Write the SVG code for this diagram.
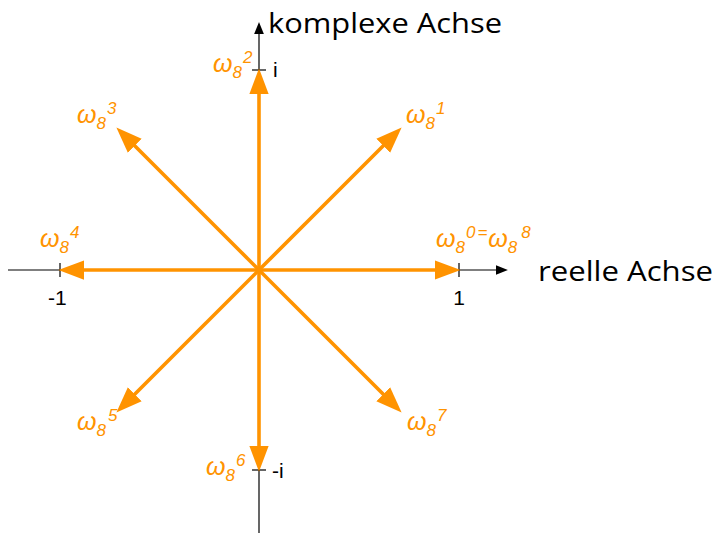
<svg xmlns="http://www.w3.org/2000/svg" width="717" height="534" viewBox="0 0 717 534">
  <style>
    .axis { stroke: #000; stroke-width: 1.2; fill: none; }
    .tick { stroke: #000; stroke-width: 1.2; }
    .vec { stroke: #ff9300; stroke-width: 3.6; fill: none; marker-end: url(#oh); }
    .w { font-family: "Liberation Sans", Arial, sans-serif; font-style: italic; font-size: 25px; fill: #ff9300; }
    .s { font-size: 17px; }
    .num { font-family: "Liberation Sans", Arial, sans-serif; font-size: 21px; fill: #000; }
    .hand { font-family: "Open Sans", "DejaVu Sans", sans-serif; font-size: 28px; fill: #000; }
  </style>
  <defs>
    <marker id="oh" markerUnits="userSpaceOnUse" markerWidth="26" markerHeight="20" viewBox="0 0 24 18" refX="4" refY="9" orient="auto">
      <path d="M0,0 L24,9 L0,18 z" fill="#ff9300"/>
    </marker>
    <marker id="bh" markerUnits="userSpaceOnUse" markerWidth="12" markerHeight="10" viewBox="0 0 11 9" refX="1" refY="4.5" orient="auto">
      <path d="M0,0 L11,4.5 L0,9 z" fill="#000"/>
    </marker>
  </defs>

  <g id="axes">
    <line class="axis" x1="8" y1="270" x2="497" y2="270" marker-end="url(#bh)"/>
    <line class="axis" x1="259" y1="533" x2="259" y2="33" marker-end="url(#bh)"/>
    <line class="tick" x1="60" y1="263" x2="60" y2="277"/>
    <line class="tick" x1="459" y1="263" x2="459" y2="277"/>
    <line class="tick" x1="252" y1="70" x2="266" y2="70"/>
    <line class="tick" x1="252" y1="470" x2="266" y2="470"/>
  </g>

  <g id="connectors">
    <line class="vec" x1="259" y1="270" x2="439" y2="270"/>
    <line class="vec" x1="259" y1="270" x2="386.3" y2="142.7"/>
    <line class="vec" x1="259" y1="270" x2="259" y2="90"/>
    <line class="vec" x1="259" y1="270" x2="131.7" y2="142.7"/>
    <line class="vec" x1="259" y1="270" x2="80" y2="270"/>
    <line class="vec" x1="259" y1="270" x2="131.7" y2="397.3"/>
    <line class="vec" x1="259" y1="270" x2="259" y2="450"/>
    <line class="vec" x1="259" y1="270" x2="386.3" y2="397.3"/>
  </g>

  <g id="axis-labels">
    <text class="hand" x="268" y="33" textLength="234" lengthAdjust="spacingAndGlyphs">komplexe Achse</text>
    <text class="hand" x="538" y="281" textLength="175" lengthAdjust="spacingAndGlyphs">reelle Achse</text>
    <text class="num" x="273" y="77">i</text>
    <text class="num" x="272" y="478">-i</text>
    <text class="num" x="48" y="305">-1</text>
    <text class="num" x="459" y="305" text-anchor="middle">1</text>
  </g>

  <g id="w0"><text class="w" x="436" y="247">ω<tspan class="s" dy="6">8</tspan><tspan class="s" dx="1" dy="-15">0</tspan><tspan class="s" dx="2">=</tspan><tspan dx="1" dy="9">ω</tspan><tspan class="s" dy="6">8</tspan><tspan class="s" dx="4" dy="-15">8</tspan></text></g>
  <g id="w1"><text class="w" x="406" y="123">ω<tspan class="s" dy="6">8</tspan><tspan class="s" dx="1" dy="-15">1</tspan></text></g>
  <g id="w2"><text class="w" x="213" y="72">ω<tspan class="s" dy="6">8</tspan><tspan class="s" dx="1" dy="-15">2</tspan></text></g>
  <g id="w3"><text class="w" x="77" y="123">ω<tspan class="s" dy="6">8</tspan><tspan class="s" dx="1" dy="-15">3</tspan></text></g>
  <g id="w4"><text class="w" x="40" y="247">ω<tspan class="s" dy="6">8</tspan><tspan class="s" dx="1" dy="-15">4</tspan></text></g>
  <g id="w5"><text class="w" x="77" y="430">ω<tspan class="s" dy="6">8</tspan><tspan class="s" dx="2" dy="-15">5</tspan></text></g>
  <g id="w6"><text class="w" x="206" y="475">ω<tspan class="s" dy="6">8</tspan><tspan class="s" dx="1" dy="-15">6</tspan></text></g>
  <g id="w7"><text class="w" x="407" y="430">ω<tspan class="s" dy="6">8</tspan><tspan class="s" dx="1" dy="-15">7</tspan></text></g>
</svg>
